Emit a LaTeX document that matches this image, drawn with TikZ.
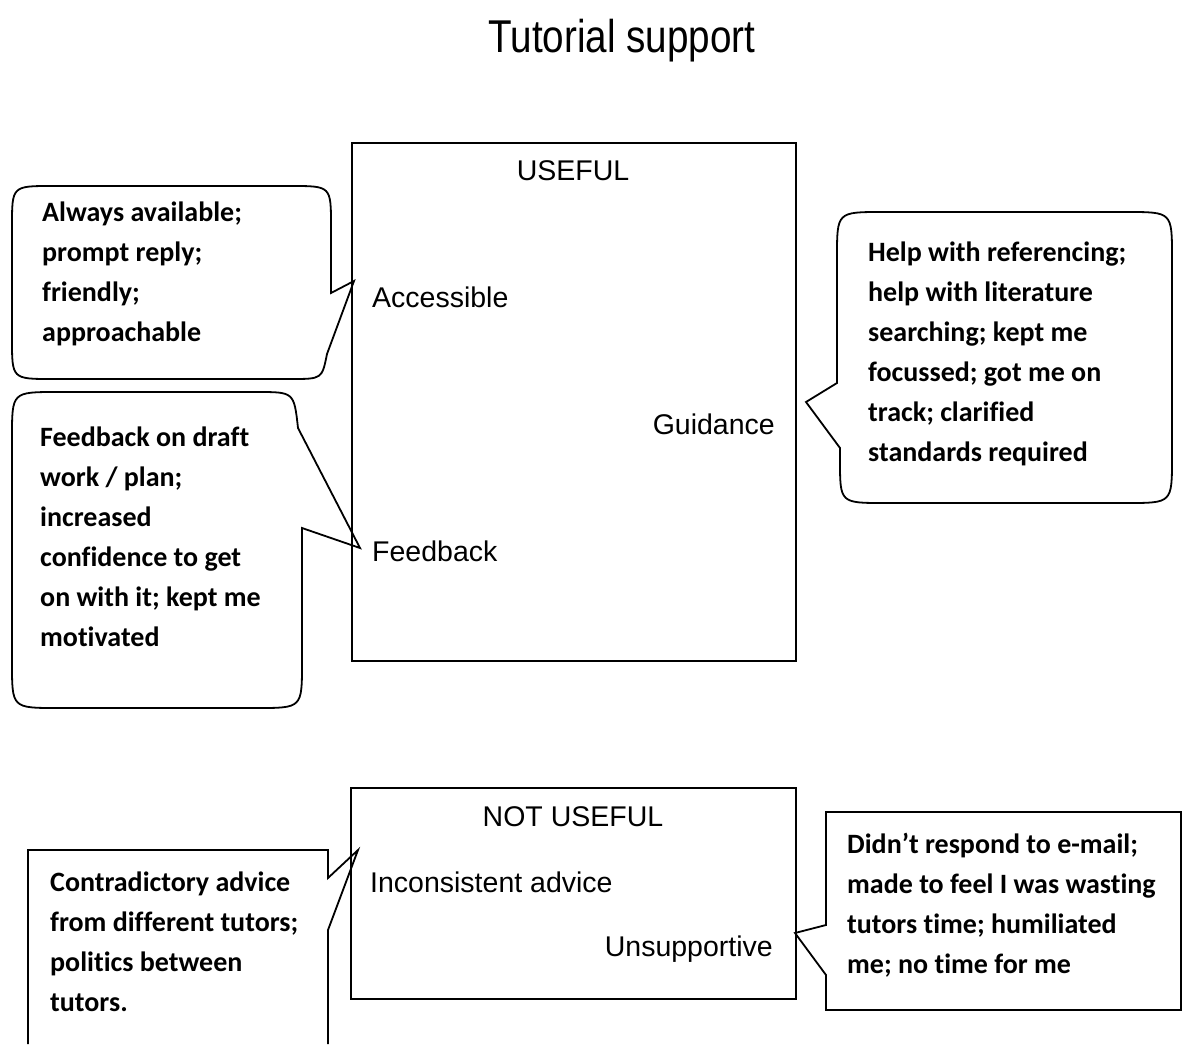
\documentclass[tikz,border=0pt]{standalone}
\usepackage{fontspec}
\setmainfont{Liberation Sans}
\newfontfamily\calfont{Carlito}[Ligatures=NoCommon]
\usepackage{graphicx}
\begin{document}
\begin{tikzpicture}[x=1pt,y=-1pt,
  frame/.style={draw, line width=1.8pt, inner sep=0pt, anchor=north west},
  bubble/.style={draw, line width=1.8pt, line join=miter},
  ctext/.style={anchor=north west, inner sep=0pt, align=left, font=\calfont\bfseries\fontsize{28}{40}\selectfont},
  lab/.style={inner sep=0pt, font=\fontsize{28.5}{34}\selectfont}]
\useasboundingbox (0,0) rectangle (1183,1044);
% title
\node[anchor=base, inner sep=0pt, font=\fontsize{46}{50}\selectfont] (title) at (622,52) {\scalebox{0.84}[1]{Tutorial support}};
% USEFUL box
\node[frame, minimum width=444pt, minimum height=518pt] (useful) at (351,142) {};
\node[lab, anchor=base] (usefullab) at (573,180) {USEFUL};
\node[lab, anchor=base west] (acc) at (372,307) {Accessible};
\node[lab, anchor=base east] (guid) at (775,434) {Guidance};
\node[lab, anchor=base west] (feed) at (372,561) {Feedback};
% NOT USEFUL box
\node[frame, minimum width=445pt, minimum height=211pt] (notuseful) at (350,787) {};
\node[lab, anchor=base] (notlab) at (573,826) {NOT USEFUL};
\node[lab, anchor=base west] (incons) at (370,892) {Inconsistent advice};
\node[lab, anchor=base east] (unsup) at (773,956) {Unsupportive};
% pointer tips
\coordinate (tipA) at (354,281);
\coordinate (tipF) at (360,548);
\coordinate (tipG) at (806,402);
\coordinate (tipC) at (358,850);
\coordinate (tipD) at (795,933);
% callout A (Accessible)
\draw[bubble] (tipA) -- (331,293) -- (331,226) .. controls (331,186) .. (291,186) -- (52,186)
  .. controls (12,186) .. (12,226) -- (12,339) .. controls (12,379) .. (52,379) -- (291,379)
  .. controls (322,379) .. (327,354) -- cycle;
\node[ctext] (textA) at (42,202) {Always available;\\prompt reply;\\friendly;\\approachable};
% callout F (Feedback)
\draw[bubble] (tipF) -- (302,528) -- (302,663) .. controls (302,708) .. (257,708) -- (57,708)
  .. controls (12,708) .. (12,663) -- (12,437) .. controls (12,392) .. (57,392) -- (257,392)
  .. controls (294,392) .. (298,428) -- cycle;
\node[ctext] (textF) at (40,427) {Feedback on draft\\work / plan;\\increased\\confidence to get\\on with it; kept me\\motivated};
% callout G (Guidance)
\draw[bubble] (tipG) -- (837,383) -- (837,257) .. controls (837,212) .. (882,212) -- (1127,212)
  .. controls (1172,212) .. (1172,257) -- (1172,458) .. controls (1172,503) .. (1127,503) -- (884,503)
  .. controls (840,503) .. (840,460) -- (840,448) -- cycle;
\node[ctext] (textG) at (868,242) {Help with referencing;\\help with literature\\searching; kept me\\focussed; got me on\\track; clarified\\standards required};
% callout C (Contradictory)
\draw[bubble] (28,1044) -- (28,850) -- (328,850) -- (328,878) -- (tipC) -- (328,930) -- (328,1044);
\node[ctext] (textC) at (50,872) {Contradictory advice\\from different tutors;\\politics between\\tutors.};
% callout D (Didn't respond)
\draw[bubble] (tipD) -- (826,925) -- (826,812) -- (1181,812) -- (1181,1010) -- (826,1010) -- (826,975) -- cycle;
\node[ctext] (textD) at (847,833) {Didn’t respond to e-mail;\\made to feel I was wasting\\tutors time; humiliated\\me; no time for me};
\end{tikzpicture}
\end{document}
